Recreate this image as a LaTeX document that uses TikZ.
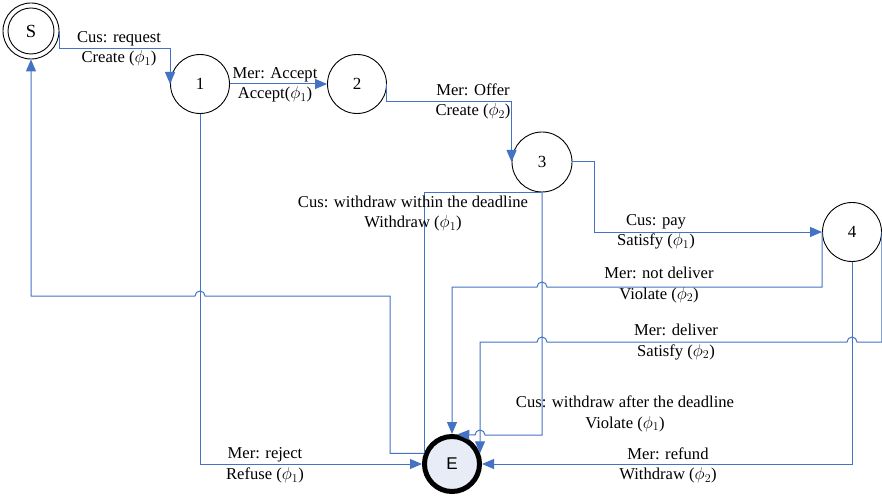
\documentclass[tikz,border=0pt]{standalone}
\usepackage{fontspec}
\setmainfont{Liberation Serif}
\newfontfamily\efont{Liberation Sans}
\usetikzlibrary{arrows.meta,calc}
\definecolor{lnblue}{RGB}{68,114,196}
\definecolor{efill}{RGB}{231,236,247}
\begin{document}
\begin{tikzpicture}[x=1pt,y=-1pt,
  st/.style={circle,draw=black,line width=0.9pt,minimum size=59pt,inner sep=0pt,font=\fontsize{17}{19}\selectfont},
  conn/.style={draw=lnblue,line width=1pt},
  arr/.style={conn,-{Triangle[length=12pt,width=10pt]}},
  lbl/.style={align=center,inner sep=0pt,font=\fontsize{16.6}{20.5}\selectfont}]
\useasboundingbox (0,0) rectangle (882,497);
% states
\node[st,minimum size=56pt,font=\fontsize{18.5}{20}\selectfont] (S) at (31,31) {S};
\draw[line width=0.9pt] (S.center) circle[radius=23];
\node[st] (n1) at (200,84) {1};
\node[st] (n2) at (357,84) {2};
\node[st,minimum size=60pt] (n3) at (542,162) {3};
\node[st] (n4) at (852,232) {4};
\node[circle,draw=black,line width=5pt,fill=efill,minimum size=55pt,inner sep=0pt,font=\efont\fontsize{17}{19}\selectfont] (E) at (452,464) {E};
% connectors
\draw[arr] (S.east) -- ++(0,18) -| (n1.west);
\draw[arr] (n1.east) -- (n2.west);
\draw[arr] (n2.east) -- ++(0,18) -| (n3.west);
\draw[arr] (n3.east) -- ++(22,0) |- (n4.west);
\draw[arr] (n4.west) |- (547,287) arc[start angle=0,end angle=-180,radius=5] -| (E.north);
\draw[arr] (n4.east) |- (857,342) arc[start angle=0,end angle=-180,radius=5] -- (547,342) arc[start angle=0,end angle=-180,radius=5] -| (E.21);
\draw[arr] (n4.south) |- (E.east);
\draw[arr] (n1.south) |- (E.west);
\draw[conn] (n3.south) -| (E.159);
\draw[arr] (n3.south) |- (485,435) arc[start angle=0,end angle=-180,radius=5] -- (E.80);
\draw[arr] (E.159) -| (390,296) -- (205,296) arc[start angle=0,end angle=-180,radius=5] -- (31,296) -- (S.south);
% labels
\node[lbl] (lreq) at (119,49) {Cus: request\\Create ($\phi_1$)};
\node[lbl] (lacc) at (275,85) {Mer: Accept\\Accept($\phi_1$)};
\node[lbl] (loff) at (473,101.5) {Mer: Offer\\Create ($\phi_2$)};
\node[lbl] (lwin) at (413,213.5) {Cus: withdraw within the deadline\\Withdraw ($\phi_1$)};
\node[lbl] (lpay) at (656,232) {Cus: pay\\Satisfy ($\phi_1$)};
\node[lbl] (lnd) at (659,285) {Mer: not deliver\\Violate ($\phi_2$)};
\node[lbl] (ldel) at (676,342) {Mer: deliver\\Satisfy ($\phi_2$)};
\node[lbl] (laft) at (625,414) {Cus: withdraw after the deadline\\Violate ($\phi_1$)};
\node[lbl] (lref) at (668,465.5) {Mer: refund\\Withdraw ($\phi_2$)};
\node[lbl] (lrej) at (265,465.5) {Mer: reject\\Refuse ($\phi_1$)};
\end{tikzpicture}
\end{document}
